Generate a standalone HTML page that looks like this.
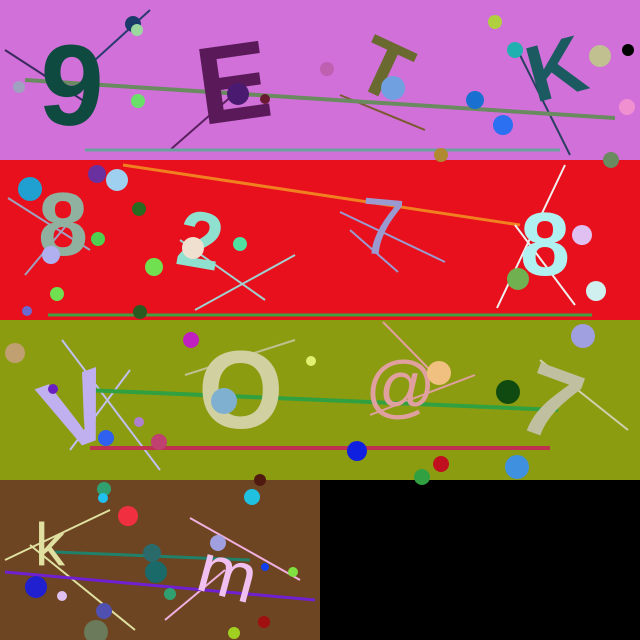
<!DOCTYPE html>
<html><head><meta charset="utf-8"><style>html,body{margin:0;padding:0;background:#000}svg{display:block}</style></head>
<body>
<svg width="640" height="640" viewBox="0 0 640 640" font-family="Liberation Sans, sans-serif">
<rect x="0" y="0" width="640" height="160" fill="#d170d9"/>
<rect x="0" y="160" width="640" height="160" fill="#e8101c"/>
<rect x="0" y="320" width="640" height="160" fill="#8c9c10"/>
<rect x="0" y="480" width="320" height="160" fill="#6d4522"/>
<rect x="320" y="480" width="320" height="160" fill="#000"/>

<g>
<line x1="5" y1="50" x2="90" y2="105" stroke="#3a2a60" stroke-width="2"/>
<line x1="95" y1="60" x2="150" y2="10" stroke="#2a3a70" stroke-width="2"/>
<line x1="170" y1="150" x2="250" y2="80" stroke="#5a2060" stroke-width="2"/>
<line x1="340" y1="95" x2="425" y2="130" stroke="#7a5a30" stroke-width="2"/>
<line x1="520" y1="55" x2="570" y2="155" stroke="#2a4060" stroke-width="2"/>
<line x1="25" y1="80" x2="615" y2="118" stroke="#6a8a60" stroke-width="4"/>
<line x1="85" y1="150" x2="560" y2="150" stroke="#6aa0a0" stroke-width="3"/>
<text x="40" y="125" font-size="115" font-weight="bold" fill="#0f4a40" transform="rotate(3 75 80)">9</text>
<text x="195" y="120" font-size="110" font-weight="bold" fill="#5a1a5a" transform="rotate(-8 235 70)">E</text>
<text x="365" y="100" font-size="80" font-weight="bold" fill="#6a6a30" transform="rotate(25 395 60)">T</text>
<text x="525" y="95" font-size="80" font-weight="bold" fill="#1a5a60" transform="rotate(-15 560 60)">K</text>
<circle cx="133" cy="24" r="8" fill="#1a3a6a"/><circle cx="137" cy="30" r="6" fill="#9ad8a0"/>
<circle cx="19" cy="87" r="6" fill="#a0a0c0"/><circle cx="138" cy="101" r="7" fill="#6ae06a"/>
<circle cx="238" cy="94" r="11" fill="#4a1a70"/><circle cx="265" cy="99" r="5" fill="#6a1a30"/>
<circle cx="327" cy="69" r="7" fill="#c060b0"/><circle cx="393" cy="88" r="12" fill="#70a0e0"/>
<circle cx="475" cy="100" r="9" fill="#1a70d0"/><circle cx="503" cy="125" r="10" fill="#2a70f0"/>
<circle cx="495" cy="22" r="7" fill="#b0d040"/><circle cx="515" cy="50" r="8" fill="#20b0b0"/>
<circle cx="600" cy="56" r="11" fill="#c0c090"/><circle cx="628" cy="50" r="6" fill="#000"/>
<circle cx="627" cy="107" r="8" fill="#f090d0"/><circle cx="441" cy="155" r="7" fill="#b08a30"/>
<circle cx="611" cy="160" r="8" fill="#6a8a60"/>
</g>

<g>
<line x1="123" y1="165" x2="520" y2="225" stroke="#f08020" stroke-width="3"/>
<line x1="8" y1="198" x2="90" y2="250" stroke="#a0a0c0" stroke-width="2"/>
<line x1="25" y1="275" x2="75" y2="215" stroke="#a0a0c0" stroke-width="2"/>
<line x1="195" y1="310" x2="295" y2="255" stroke="#a0d0d0" stroke-width="2"/>
<line x1="180" y1="240" x2="265" y2="300" stroke="#a0d0d0" stroke-width="2"/>
<line x1="340" y1="212" x2="445" y2="262" stroke="#9a9ad0" stroke-width="2"/>
<line x1="350" y1="230" x2="398" y2="272" stroke="#9a9ad0" stroke-width="2"/>
<line x1="497" y1="308" x2="565" y2="165" stroke="#f0f0f0" stroke-width="2"/>
<line x1="515" y1="225" x2="575" y2="305" stroke="#f0f0f0" stroke-width="2"/>
<line x1="48" y1="315" x2="592" y2="315" stroke="#40a040" stroke-width="3"/>
<text x="38" y="255" font-size="90" font-weight="bold" fill="#90b0a0">8</text>
<text x="180" y="270" font-size="80" font-weight="bold" fill="#90e0d0" transform="rotate(10 215 230)">2</text>
<text x="360" y="255" font-size="80" fill="#9a9ad0" transform="rotate(5 390 220)">7</text>
<text x="520" y="275" font-size="90" font-weight="bold" fill="#b0f0f0">8</text>
<circle cx="30" cy="189" r="12" fill="#20a0d0"/><circle cx="97" cy="174" r="9" fill="#6a30a0"/>
<circle cx="117" cy="180" r="11" fill="#a0d0f0"/><circle cx="139" cy="209" r="7" fill="#2a6a20"/>
<circle cx="98" cy="239" r="7" fill="#50d050"/><circle cx="51" cy="255" r="9" fill="#b0b0f0"/>
<circle cx="154" cy="267" r="9" fill="#70e050"/><circle cx="57" cy="294" r="7" fill="#70e050"/>
<circle cx="27" cy="311" r="5" fill="#6a6ad0"/><circle cx="140" cy="312" r="7" fill="#2a5a20"/>
<circle cx="193" cy="248" r="11" fill="#f0e0d0"/><circle cx="240" cy="244" r="7" fill="#50e0a0"/>
<circle cx="582" cy="235" r="10" fill="#e0c0f0"/><circle cx="518" cy="279" r="11" fill="#70b050"/>
<circle cx="596" cy="291" r="10" fill="#d0f0f0"/>
</g>

<g>
<line x1="62" y1="340" x2="160" y2="470" stroke="#c0c0f0" stroke-width="2"/>
<line x1="70" y1="450" x2="130" y2="370" stroke="#c0c0f0" stroke-width="2"/>
<line x1="185" y1="375" x2="295" y2="340" stroke="#c0c090" stroke-width="2"/>
<line x1="383" y1="322" x2="430" y2="370" stroke="#e0a0a0" stroke-width="2"/>
<line x1="370" y1="415" x2="475" y2="375" stroke="#e0a0a0" stroke-width="2"/>
<line x1="540" y1="360" x2="628" y2="430" stroke="#d0d0b0" stroke-width="2"/>
<line x1="85" y1="390" x2="558" y2="410" stroke="#30a040" stroke-width="4"/>
<line x1="90" y1="448" x2="550" y2="448" stroke="#c03050" stroke-width="4"/>
<text x="40" y="445" font-size="100" font-weight="bold" fill="#c0b0f0" transform="rotate(-20 75 400)">V</text>
<text x="198" y="428" font-size="110" font-weight="bold" fill="#d0d0a0">O</text>
<text x="365" y="410" font-size="70" fill="#e0a0a0">@</text>
<text x="525" y="440" font-size="100" font-weight="bold" fill="#c0c0a0" transform="rotate(20 560 400)">7</text>
<circle cx="15" cy="353" r="10" fill="#c0a070"/><circle cx="191" cy="340" r="8" fill="#c020c0"/>
<circle cx="311" cy="361" r="5" fill="#e0f070"/><circle cx="439" cy="373" r="12" fill="#f0c080"/>
<circle cx="508" cy="392" r="12" fill="#104a10"/><circle cx="583" cy="336" r="12" fill="#a0a0e0"/>
<circle cx="53" cy="389" r="5" fill="#6a20c0"/><circle cx="224" cy="401" r="13" fill="#80b0d0"/>
<circle cx="106" cy="438" r="8" fill="#3060f0"/><circle cx="159" cy="442" r="8" fill="#c04070"/>
<circle cx="139" cy="422" r="5" fill="#b080d0"/><circle cx="357" cy="451" r="10" fill="#1020e0"/>
<circle cx="441" cy="464" r="8" fill="#c01020"/><circle cx="517" cy="467" r="12" fill="#4090e0"/>
<circle cx="422" cy="477" r="8" fill="#30a040"/><circle cx="260" cy="480" r="6" fill="#501a10"/>
</g>

<g>
<line x1="5" y1="560" x2="110" y2="510" stroke="#e0e0a0" stroke-width="2"/>
<line x1="30" y1="545" x2="135" y2="630" stroke="#e0e0a0" stroke-width="2"/>
<line x1="165" y1="620" x2="225" y2="570" stroke="#f0b0e0" stroke-width="2"/>
<line x1="190" y1="518" x2="300" y2="580" stroke="#f0b0e0" stroke-width="2"/>
<line x1="55" y1="552" x2="250" y2="560" stroke="#20806a" stroke-width="3"/>
<line x1="5" y1="572" x2="315" y2="600" stroke="#7020d0" stroke-width="3"/>
<text x="35" y="565" font-size="60" fill="#e0e0a0">k</text>
<text x="200" y="600" font-size="70" fill="#f0c0f0" transform="rotate(15 240 570)">m</text>
<circle cx="104" cy="489" r="7" fill="#30a070"/><circle cx="103" cy="498" r="5" fill="#20c0f0"/>
<circle cx="128" cy="516" r="10" fill="#f03040"/><circle cx="252" cy="497" r="8" fill="#20c0e0"/>
<circle cx="152" cy="553" r="9" fill="#2a6a6a"/><circle cx="156" cy="572" r="11" fill="#1a6a6a"/>
<circle cx="218" cy="543" r="8" fill="#a0a0e0"/><circle cx="36" cy="587" r="11" fill="#2020d0"/>
<circle cx="62" cy="596" r="5" fill="#e0c0f0"/><circle cx="104" cy="611" r="8" fill="#5050b0"/>
<circle cx="96" cy="632" r="12" fill="#6a7a5a"/><circle cx="170" cy="594" r="6" fill="#30a070"/>
<circle cx="265" cy="567" r="4" fill="#1040f0"/><circle cx="293" cy="572" r="5" fill="#80e040"/>
<circle cx="264" cy="622" r="6" fill="#a01010"/><circle cx="234" cy="633" r="6" fill="#a0d020"/>
</g>
</svg>
</body></html>
